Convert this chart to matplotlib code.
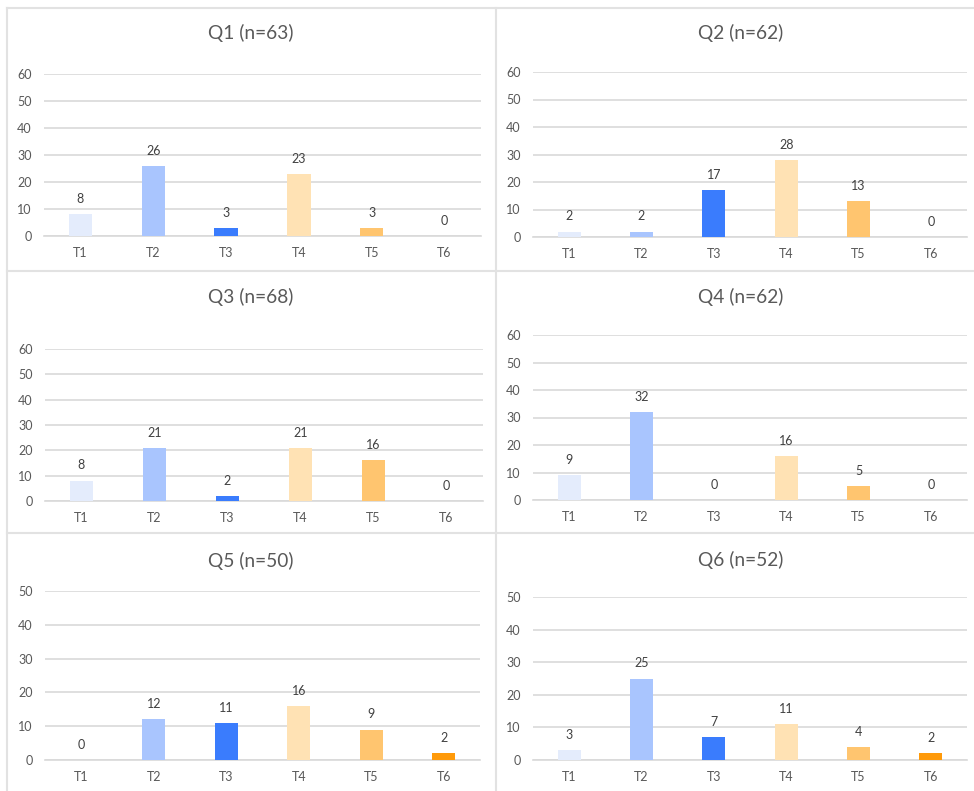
import matplotlib.pyplot as plt
from matplotlib.lines import Line2D

# DATA
# -----------------------------------------------

categories = ["T1", "T2", "T3", "T4", "T5", "T6"]
titles = ["Q1 (n=63)", "Q2 (n=62)", "Q3 (n=68)", "Q4 (n=62)", "Q5 (n=50)", "Q6 (n=52)"]

q1 = [8, 26, 3, 23, 3, 0]
q2 = [2, 2, 17, 28, 13, 0]
q3 = [8, 21, 2, 21, 16, 0]
q4 = [9, 32, 0, 16, 5, 0]
q5 = [0, 12, 11, 16, 9, 2]
q6 = [3, 25, 7, 11, 4, 2]

y_max = [60, 60, 60, 60, 50, 50]

bar_colors = ["#E4ECFC", "#A9C5FE", "#3A7CFD", "#FFE2B4", "#FFC56F", "#FF9A0A"]

# LAYOUT (pixels)
# -----------------------------------------------

W, H = 974, 791
TEXT = "#595959"
GRID = "#D9D9D9"

# plot area: left, right, bottom, top
plot_boxes = [
    (44, 481, 236, 74),
    (533, 967, 237, 72),
    (45, 483, 501, 349),
    (533, 967, 500, 335),
    (45, 480, 760, 591),
    (533, 967, 760, 597),
]
title_xy = [(251, 33), (741, 33), (251, 297), (741, 297), (251, 561), (741, 560)]

plt.rcParams["font.family"] = ["Lato", "DejaVu Sans"]


def px_rect(left, right, bottom, top):
    return [left / W, 1 - bottom / H, (right - left) / W, (bottom - top) / H]


def draw_panel(fig, box, values, ymax, title, txy):
    ax = fig.add_axes(px_rect(*box))
    x = range(len(categories))
    ax.bar(x, values, width=0.32, color=bar_colors, zorder=3)
    for xi, v in zip(x, values):
        ax.annotate(str(v), (xi, v), xytext=(0, 11), textcoords="offset points",
                    ha="center", va="center", fontsize=9, color="#404040")
    ax.set_xlim(-0.5, len(categories) - 0.5)
    ax.set_ylim(0, ymax)
    ax.set_yticks(range(0, ymax + 1, 10))
    ax.set_xticks(list(x))
    ax.set_xticklabels(categories)
    ax.grid(axis="y", color=GRID, linewidth=1.2, zorder=0)
    ax.tick_params(axis="y", length=0, pad=9, labelsize=9, labelcolor=TEXT)
    ax.tick_params(axis="x", length=0, pad=8, labelsize=9, labelcolor=TEXT)
    for side in ["top", "right", "left"]:
        ax.spines[side].set_visible(False)
    ax.spines["bottom"].set_color(GRID)
    ax.spines["bottom"].set_linewidth(1.2)
    ax.set_facecolor("none")
    fig.text(txy[0] / W, 1 - txy[1] / H, title, ha="center", va="center",
             fontsize=13.8, color=TEXT)


def draw_borders(fig):
    lines = [
        ((7, 974), (8, 8)),
        ((7, 974), (271, 271)),
        ((7, 974), (533, 533)),
        ((7, 7), (8, 791)),
        ((496, 496), (8, 791)),
    ]
    for xs, ys in lines:
        fig.add_artist(Line2D([v / W for v in xs], [1 - v / H for v in ys],
                              color="#E2E2E2", linewidth=1.5))


# MAIN
# -----------------------------------------------

def main():
    fig = plt.figure(figsize=(W / 100, H / 100), dpi=100)
    draw_borders(fig)
    series = [q1, q2, q3, q4, q5, q6]
    for box, values, ymax, title, txy in zip(plot_boxes, series, y_max, titles, title_xy):
        draw_panel(fig, box, values, ymax, title, txy)
    fig.savefig("out.png", dpi=100)


if __name__ == "__main__":
    main()
